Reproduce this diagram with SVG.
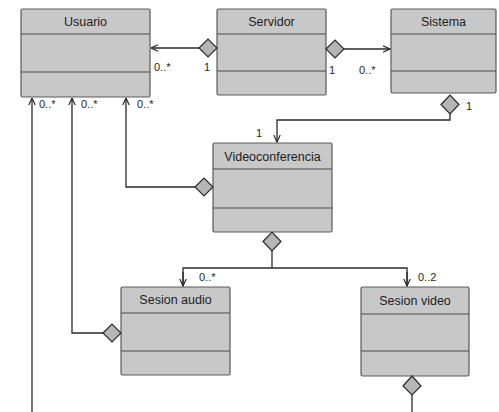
<svg xmlns="http://www.w3.org/2000/svg" width="499" height="412" viewBox="0 0 499 412">
  <style>
    .box { fill: #c8c8c8; stroke: #5a5a5a; stroke-width: 1.2; }
    .sep { stroke: #4a4a4a; stroke-width: 1; }
    .title { font-family: "Liberation Sans", Arial, sans-serif; font-size: 12.5px; fill: #1e1e1e; text-anchor: middle; }
    .lbl { font-family: "Liberation Sans", Arial, sans-serif; font-size: 11px; fill: #1e1e1e; }
    .conn { fill: none; stroke: #2a2a2a; stroke-width: 1.3; }
    .dia { fill: #b5b5b5; stroke: #2a2a2a; stroke-width: 1.2; }
  </style>
  <defs>
    <marker id="open" viewBox="0 0 8 8" refX="7.5" refY="4" markerWidth="8" markerHeight="8" markerUnits="userSpaceOnUse" orient="auto">
      <path d="M0.5,0.8 L7.5,4 L0.5,7.2" fill="none" stroke="#2a2a2a" stroke-width="1.2"/>
    </marker>
  </defs>
  <rect width="499" height="412" fill="#ffffff"/>

  <!-- classes -->
  <g id="usuario">
    <rect class="box" x="21" y="9" width="129" height="88" rx="1.5"/>
    <line class="sep" x1="21" y1="34" x2="150" y2="34"/>
    <line class="sep" x1="21" y1="72" x2="150" y2="72"/>
    <text class="title" x="85.5" y="26">Usuario</text>
  </g>
  <g id="servidor">
    <rect class="box" x="217" y="9" width="109" height="86" rx="1.5"/>
    <line class="sep" x1="217" y1="34" x2="326" y2="34"/>
    <line class="sep" x1="217" y1="71" x2="326" y2="71"/>
    <text class="title" x="271.5" y="26">Servidor</text>
  </g>
  <g id="sistema">
    <rect class="box" x="391" y="9" width="105" height="84" rx="1.5"/>
    <line class="sep" x1="391" y1="34" x2="496" y2="34"/>
    <line class="sep" x1="391" y1="71" x2="496" y2="71"/>
    <text class="title" x="443.5" y="26">Sistema</text>
  </g>
  <g id="videoconferencia">
    <rect class="box" x="213" y="143" width="119" height="89" rx="1.5"/>
    <line class="sep" x1="213" y1="169" x2="332" y2="169"/>
    <line class="sep" x1="213" y1="208" x2="332" y2="208"/>
    <text class="title" x="272.5" y="161">Videoconferencia</text>
  </g>
  <g id="sesion-audio">
    <rect class="box" x="121" y="287" width="109" height="88" rx="1.5"/>
    <line class="sep" x1="121" y1="313" x2="230" y2="313"/>
    <line class="sep" x1="121" y1="351" x2="230" y2="351"/>
    <text class="title" x="175.5" y="304">Sesion audio</text>
  </g>
  <g id="sesion-video">
    <rect class="box" x="361" y="287" width="108" height="89" rx="1.5"/>
    <line class="sep" x1="361" y1="314" x2="469" y2="314"/>
    <line class="sep" x1="361" y1="351" x2="469" y2="351"/>
    <text class="title" x="415" y="305">Sesion video</text>
  </g>

  <!-- associations -->
  <g id="connectors">
    <!-- Servidor -> Usuario -->
    <line class="conn" x1="199" y1="48" x2="151" y2="48" marker-end="url(#open)"/>
    <path class="dia" d="M199,48 L208,39 L217,48 L208,57 Z"/>
    <!-- Servidor -> Sistema -->
    <line class="conn" x1="344" y1="49" x2="390" y2="49" marker-end="url(#open)"/>
    <path class="dia" d="M326,49 L335,40 L344,49 L335,58 Z"/>
    <!-- Sistema -> Videoconferencia -->
    <polyline class="conn" points="450,114 450,120 277,120 277,142" marker-end="url(#open)"/>
    <path class="dia" d="M441,104.5 L450,95 L459,104.5 L450,114 Z"/>
    <!-- Videoconferencia -> Usuario -->
    <polyline class="conn" points="195,187 126,187 126,98" marker-end="url(#open)"/>
    <path class="dia" d="M195,187 L204,178 L213,187 L204,196 Z"/>
    <!-- Videoconferencia -> Sesion audio / Sesion video -->
    <polyline class="conn" points="272,251 272,268"/>
    <polyline class="conn" points="183,286 183,268 407,268 407,286"/>
    <line class="conn" x1="183" y1="272" x2="183" y2="286" marker-end="url(#open)"/>
    <line class="conn" x1="407" y1="272" x2="407" y2="286" marker-end="url(#open)"/>
    <path class="dia" d="M263,241.5 L272,232 L281,241.5 L272,251 Z"/>
    <!-- Sesion audio -> Usuario -->
    <polyline class="conn" points="103,333 72,333 72,98" marker-end="url(#open)"/>
    <path class="dia" d="M103,333 L112,324 L121,333 L112,342 Z"/>
    <!-- lower link -> Usuario -->
    <line class="conn" x1="32" y1="412" x2="32" y2="98" marker-end="url(#open)"/>
    <!-- Sesion video downward -->
    <line class="conn" x1="412" y1="395" x2="412" y2="412"/>
    <path class="dia" d="M403,386 L412,376 L421,386 L412,395 Z"/>
  </g>

  <!-- multiplicities -->
  <g id="labels">
    <text class="lbl" x="154" y="71">0..*</text>
    <text class="lbl" x="204" y="71">1</text>
    <text class="lbl" x="329" y="74">1</text>
    <text class="lbl" x="359" y="74">0..*</text>
    <text class="lbl" x="466" y="110">1</text>
    <text class="lbl" x="256" y="137">1</text>
    <text class="lbl" x="39" y="108">0..*</text>
    <text class="lbl" x="81" y="108">0..*</text>
    <text class="lbl" x="137" y="108">0..*</text>
    <text class="lbl" x="199" y="281">0..*</text>
    <text class="lbl" x="418" y="281">0..2</text>
  </g>
</svg>
